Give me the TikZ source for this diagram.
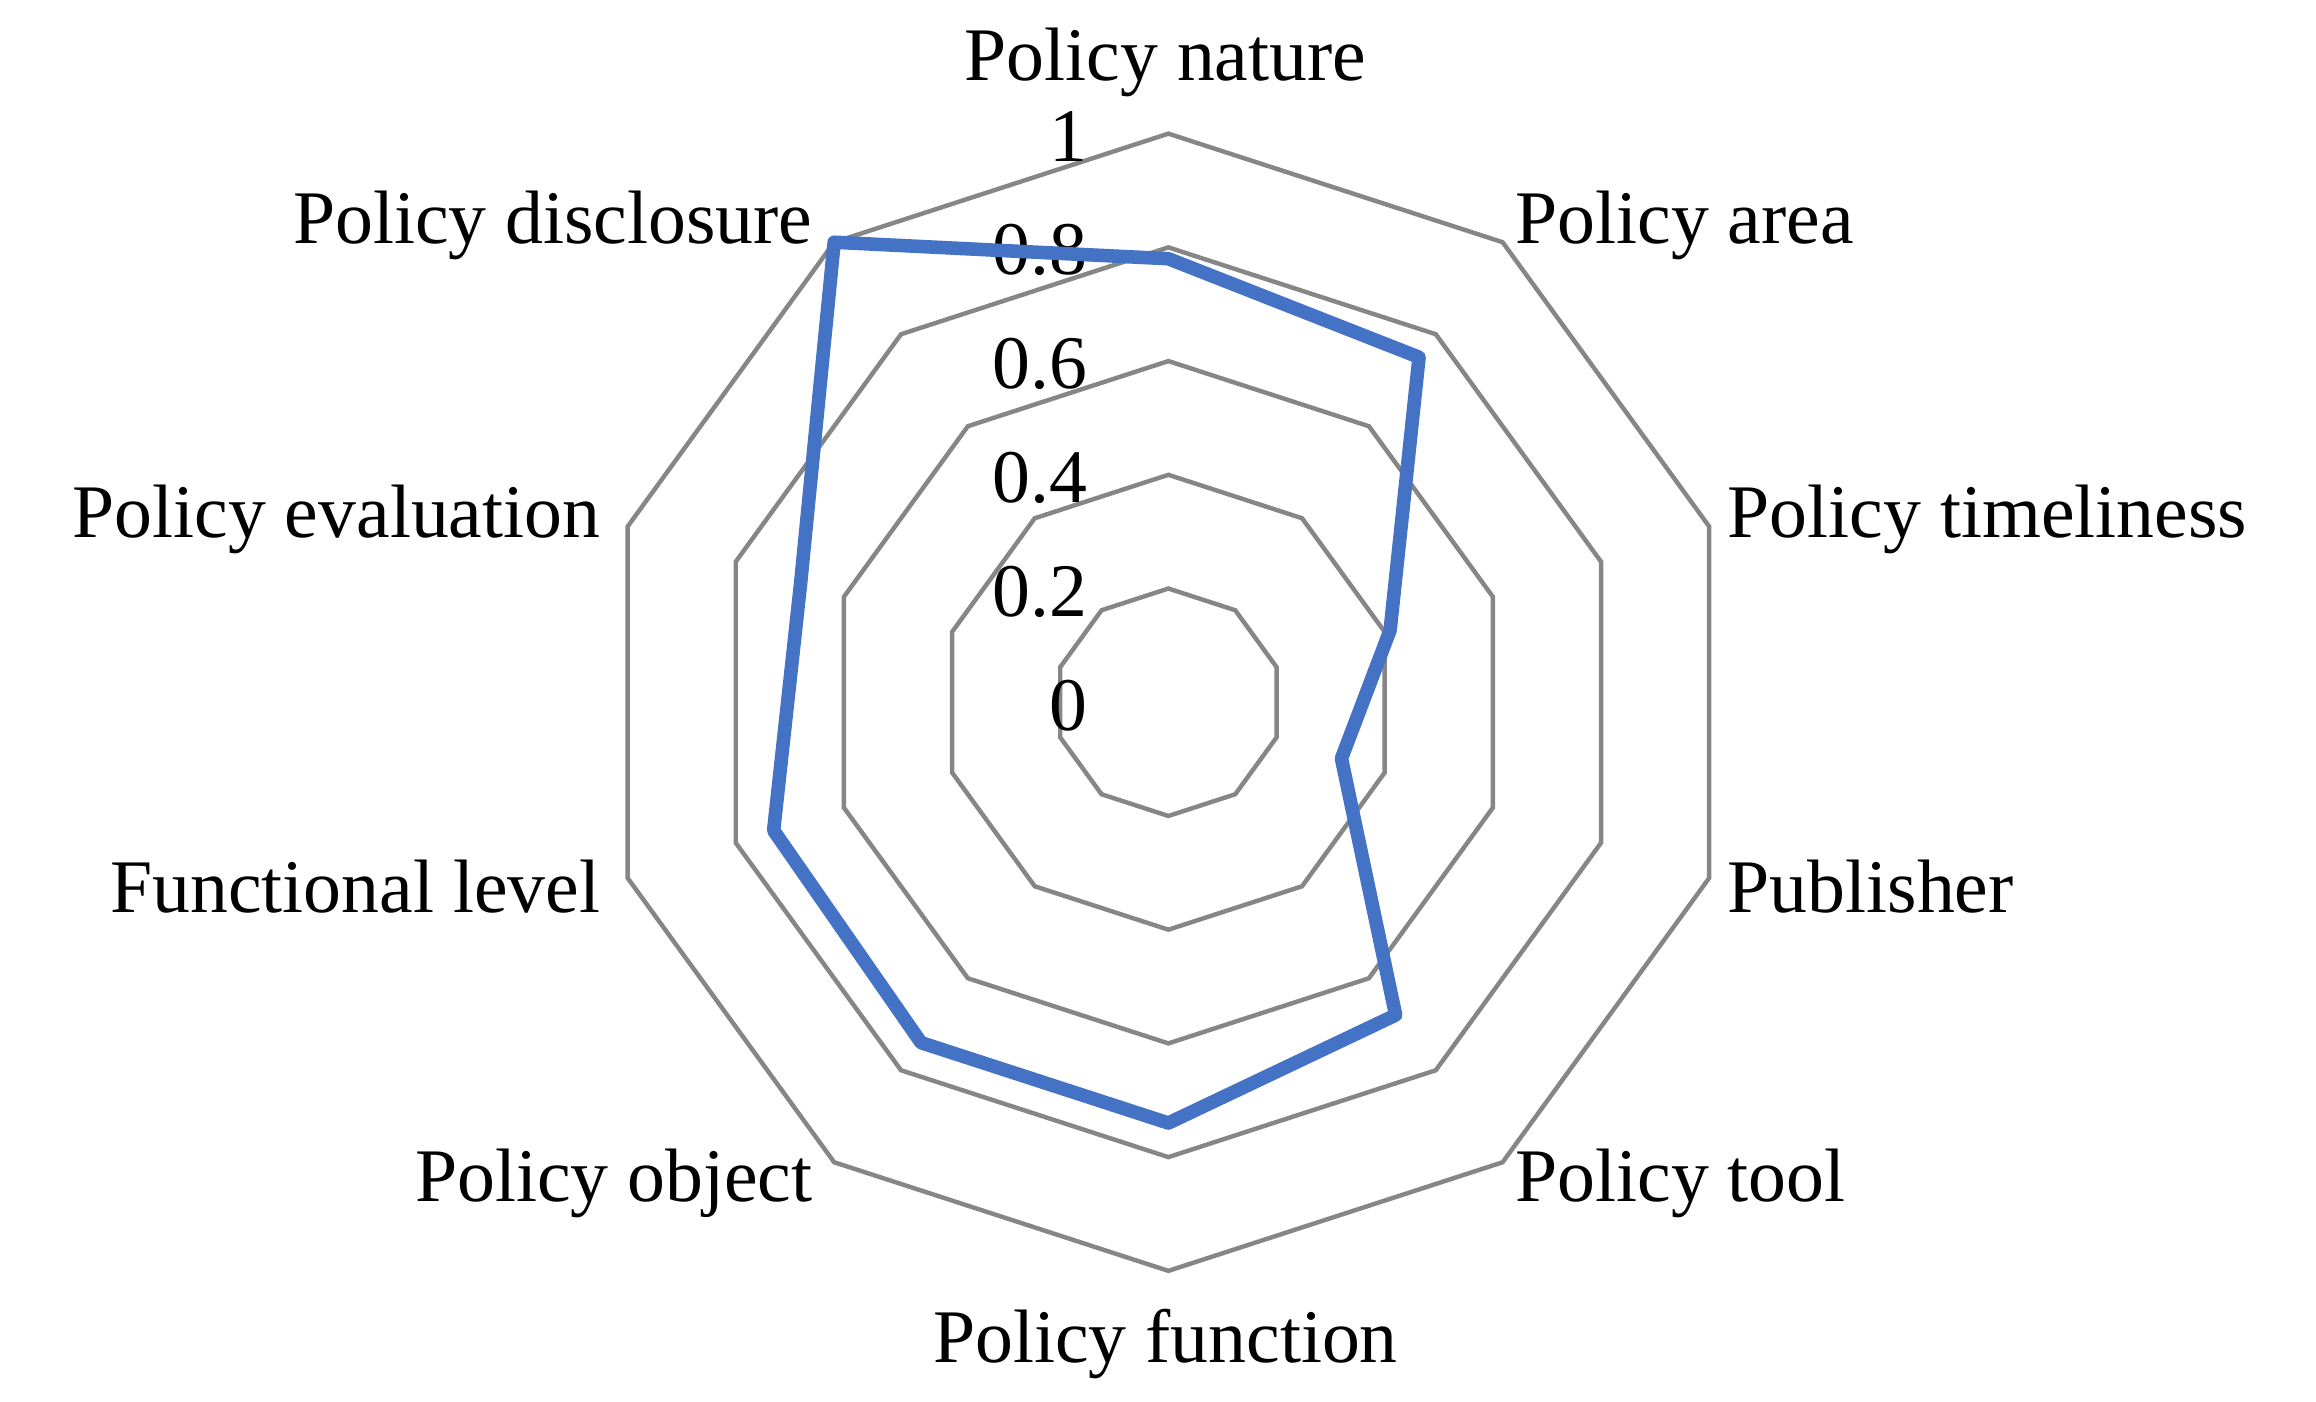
\documentclass[tikz,border=0pt]{standalone}
\usepackage{fontspec}
\usetikzlibrary{calc}
\setmainfont{Liberation Serif}
\definecolor{ringgray}{HTML}{868686}
\definecolor{serblue}{HTML}{4472C4}
\begin{document}
\begin{tikzpicture}[x=0.01cm,y=-0.01cm,
  ring/.style={draw=ringgray,line width=0.85pt},
  series/.style={draw=serblue,line width=2.6pt,line join=round},
  lab/.style={font=\fontsize{14.5}{16}\selectfont,inner sep=0pt},
  tick/.style={font=\fontsize{14.5}{16}\selectfont,inner sep=0pt,anchor=east}]
\useasboundingbox (0,0) rectangle (1560,944);
\coordinate (c) at (787,473);
\foreach \r in {0.2,0.4,0.6,0.8,1} {
  \draw[ring] ($(c)+(90:\r*383 and -\r*383)$) \foreach \a in {54,18,-18,-54,-90,-126,-162,162,126} { -- ($(c)+(\a:\r*383 and -\r*383)$) } -- cycle;
}
\foreach \v/\t in {0/0,0.2/0.2,0.4/0.4,0.6/0.6,0.8/0.8,1/1}
  \node[tick] (t\v) at (733,{473-\v*383+2}) {\t};
\draw[series] ($(c)+(90:0.78*383 and -0.78*383)$)
 -- ($(c)+(54:0.75*383 and -0.75*383)$)
 -- ($(c)+(18:0.41*383 and -0.41*383)$)
 -- ($(c)+(-18:0.32*383 and -0.32*383)$)
 -- ($(c)+(-54:0.68*383 and -0.68*383)$)
 -- ($(c)+(-90:0.74*383 and -0.74*383)$)
 -- ($(c)+(-126:0.74*383 and -0.74*383)$)
 -- ($(c)+(-162:0.73*383 and -0.73*383)$)
 -- ($(c)+(162:0.68*383 and -0.68*383)$)
 -- ($(c)+(126:1*383 and -1*383)$) -- cycle;
\node[lab] (n1) at (785,42) {Policy nature};
\node[lab,anchor=west] (n2) at (1020,152) {Policy area};
\node[lab,anchor=west] (n3) at (1163,350) {Policy timeliness};
\node[lab,anchor=west] (n4) at (1163,597) {Publisher};
\node[lab,anchor=west] (n5) at (1020,797) {Policy tool};
\node[lab] (n6) at (785,905) {Policy function};
\node[lab,anchor=east] (n7) at (548,797) {Policy object};
\node[lab,anchor=east] (n8) at (405,597) {Functional level};
\node[lab,anchor=east] (n9) at (405,350) {Policy evaluation};
\node[lab,anchor=east] (n10) at (548,152) {Policy disclosure};
\end{tikzpicture}
\end{document}
